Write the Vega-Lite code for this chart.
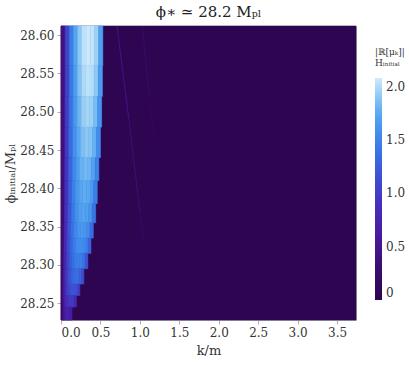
{
  "$schema": "https://vega.github.io/schema/vega-lite/v6.json",
  "width": 295,
  "height": 294,
  "autosize": "none",
  "padding": {"left": 61, "top": 26, "right": 53, "bottom": 45},
  "background": "white",
  "config": {
    "view": {"stroke": "#b0b0b0", "strokeWidth": 1},
    "font": "DejaVu Serif"
  },
  "title": {"text": "ϕ∗ ≃ 28.2 Mₚₗ", "font": "DejaVu Serif", "fontSize": 15, "fontWeight": "normal", "color": "#222", "offset": 5, "anchor": "middle"},
  "datasets": {
    "cells": [
      {"k0":0,"k1":3.74,"p0":28.228,"p1":28.612,"v":0},
      {"k0":0,"k1":0.053,"p0":28.56,"p1":28.612,"v":0.41},
      {"k0":0.053,"k1":0.106,"p0":28.56,"p1":28.612,"v":1.04},
      {"k0":0.106,"k1":0.159,"p0":28.56,"p1":28.612,"v":1.45},
      {"k0":0.159,"k1":0.212,"p0":28.56,"p1":28.612,"v":1.72},
      {"k0":0.212,"k1":0.265,"p0":28.56,"p1":28.612,"v":1.9},
      {"k0":0.265,"k1":0.318,"p0":28.56,"p1":28.612,"v":2.03},
      {"k0":0.318,"k1":0.371,"p0":28.56,"p1":28.612,"v":2.07},
      {"k0":0.371,"k1":0.424,"p0":28.56,"p1":28.612,"v":2.05},
      {"k0":0.424,"k1":0.477,"p0":28.56,"p1":28.612,"v":1.95},
      {"k0":0.477,"k1":0.53,"p0":28.56,"p1":28.612,"v":1.7},

      {"k0":0,"k1":0.0525,"p0":28.52,"p1":28.56,"v":0.41},
      {"k0":0.0525,"k1":0.105,"p0":28.52,"p1":28.56,"v":1.02},
      {"k0":0.105,"k1":0.1575,"p0":28.52,"p1":28.56,"v":1.42},
      {"k0":0.1575,"k1":0.21,"p0":28.52,"p1":28.56,"v":1.68},
      {"k0":0.21,"k1":0.2625,"p0":28.52,"p1":28.56,"v":1.87},
      {"k0":0.2625,"k1":0.315,"p0":28.52,"p1":28.56,"v":1.99},
      {"k0":0.315,"k1":0.3675,"p0":28.52,"p1":28.56,"v":2.03},
      {"k0":0.3675,"k1":0.42,"p0":28.52,"p1":28.56,"v":2.01},
      {"k0":0.42,"k1":0.4725,"p0":28.52,"p1":28.56,"v":1.91},
      {"k0":0.4725,"k1":0.525,"p0":28.52,"p1":28.56,"v":1.66},

      {"k0":0,"k1":0.0515,"p0":28.48,"p1":28.52,"v":0.39},
      {"k0":0.0515,"k1":0.103,"p0":28.48,"p1":28.52,"v":0.99},
      {"k0":0.103,"k1":0.1545,"p0":28.48,"p1":28.52,"v":1.38},
      {"k0":0.1545,"k1":0.206,"p0":28.48,"p1":28.52,"v":1.64},
      {"k0":0.206,"k1":0.2575,"p0":28.48,"p1":28.52,"v":1.81},
      {"k0":0.2575,"k1":0.309,"p0":28.48,"p1":28.52,"v":1.93},
      {"k0":0.309,"k1":0.3605,"p0":28.48,"p1":28.52,"v":1.97},
      {"k0":0.3605,"k1":0.412,"p0":28.48,"p1":28.52,"v":1.95},
      {"k0":0.412,"k1":0.4635,"p0":28.48,"p1":28.52,"v":1.85},
      {"k0":0.4635,"k1":0.515,"p0":28.48,"p1":28.52,"v":1.62},

      {"k0":0,"k1":0.05,"p0":28.44,"p1":28.48,"v":0.38},
      {"k0":0.05,"k1":0.1,"p0":28.44,"p1":28.48,"v":0.95},
      {"k0":0.1,"k1":0.15,"p0":28.44,"p1":28.48,"v":1.33},
      {"k0":0.15,"k1":0.2,"p0":28.44,"p1":28.48,"v":1.58},
      {"k0":0.2,"k1":0.25,"p0":28.44,"p1":28.48,"v":1.75},
      {"k0":0.25,"k1":0.3,"p0":28.44,"p1":28.48,"v":1.86},
      {"k0":0.3,"k1":0.35,"p0":28.44,"p1":28.48,"v":1.9},
      {"k0":0.35,"k1":0.4,"p0":28.44,"p1":28.48,"v":1.88},
      {"k0":0.4,"k1":0.45,"p0":28.44,"p1":28.48,"v":1.79},
      {"k0":0.45,"k1":0.5,"p0":28.44,"p1":28.48,"v":1.56},

      {"k0":0,"k1":0.048,"p0":28.41,"p1":28.44,"v":0.37},
      {"k0":0.048,"k1":0.096,"p0":28.41,"p1":28.44,"v":0.92},
      {"k0":0.096,"k1":0.144,"p0":28.41,"p1":28.44,"v":1.28},
      {"k0":0.144,"k1":0.192,"p0":28.41,"p1":28.44,"v":1.52},
      {"k0":0.192,"k1":0.24,"p0":28.41,"p1":28.44,"v":1.68},
      {"k0":0.24,"k1":0.288,"p0":28.41,"p1":28.44,"v":1.79},
      {"k0":0.288,"k1":0.336,"p0":28.41,"p1":28.44,"v":1.83},
      {"k0":0.336,"k1":0.384,"p0":28.41,"p1":28.44,"v":1.81},
      {"k0":0.384,"k1":0.432,"p0":28.41,"p1":28.44,"v":1.72},
      {"k0":0.432,"k1":0.48,"p0":28.41,"p1":28.44,"v":1.5},

      {"k0":0,"k1":0.046,"p0":28.38,"p1":28.41,"v":0.35},
      {"k0":0.046,"k1":0.092,"p0":28.38,"p1":28.41,"v":0.89},
      {"k0":0.092,"k1":0.138,"p0":28.38,"p1":28.41,"v":1.24},
      {"k0":0.138,"k1":0.184,"p0":28.38,"p1":28.41,"v":1.47},
      {"k0":0.184,"k1":0.23,"p0":28.38,"p1":28.41,"v":1.63},
      {"k0":0.23,"k1":0.276,"p0":28.38,"p1":28.41,"v":1.73},
      {"k0":0.276,"k1":0.322,"p0":28.38,"p1":28.41,"v":1.77},
      {"k0":0.322,"k1":0.368,"p0":28.38,"p1":28.41,"v":1.75},
      {"k0":0.368,"k1":0.414,"p0":28.38,"p1":28.41,"v":1.66},
      {"k0":0.414,"k1":0.46,"p0":28.38,"p1":28.41,"v":1.45},

      {"k0":0,"k1":0.044,"p0":28.355,"p1":28.38,"v":0.34},
      {"k0":0.044,"k1":0.088,"p0":28.355,"p1":28.38,"v":0.86},
      {"k0":0.088,"k1":0.132,"p0":28.355,"p1":28.38,"v":1.2},
      {"k0":0.132,"k1":0.176,"p0":28.355,"p1":28.38,"v":1.43},
      {"k0":0.176,"k1":0.22,"p0":28.355,"p1":28.38,"v":1.58},
      {"k0":0.22,"k1":0.264,"p0":28.355,"p1":28.38,"v":1.69},
      {"k0":0.264,"k1":0.308,"p0":28.355,"p1":28.38,"v":1.72},
      {"k0":0.308,"k1":0.352,"p0":28.355,"p1":28.38,"v":1.7},
      {"k0":0.352,"k1":0.396,"p0":28.355,"p1":28.38,"v":1.62},
      {"k0":0.396,"k1":0.44,"p0":28.355,"p1":28.38,"v":1.41},

      {"k0":0,"k1":0.041,"p0":28.335,"p1":28.355,"v":0.33},
      {"k0":0.041,"k1":0.082,"p0":28.335,"p1":28.355,"v":0.83},
      {"k0":0.082,"k1":0.123,"p0":28.335,"p1":28.355,"v":1.16},
      {"k0":0.123,"k1":0.164,"p0":28.335,"p1":28.355,"v":1.37},
      {"k0":0.164,"k1":0.205,"p0":28.335,"p1":28.355,"v":1.52},
      {"k0":0.205,"k1":0.246,"p0":28.335,"p1":28.355,"v":1.62},
      {"k0":0.246,"k1":0.287,"p0":28.335,"p1":28.355,"v":1.65},
      {"k0":0.287,"k1":0.328,"p0":28.335,"p1":28.355,"v":1.63},
      {"k0":0.328,"k1":0.369,"p0":28.335,"p1":28.355,"v":1.55},
      {"k0":0.369,"k1":0.41,"p0":28.335,"p1":28.355,"v":1.35},

      {"k0":0,"k1":0.038,"p0":28.315,"p1":28.335,"v":0.31},
      {"k0":0.038,"k1":0.076,"p0":28.315,"p1":28.335,"v":0.79},
      {"k0":0.076,"k1":0.114,"p0":28.315,"p1":28.335,"v":1.1},
      {"k0":0.114,"k1":0.152,"p0":28.315,"p1":28.335,"v":1.3},
      {"k0":0.152,"k1":0.19,"p0":28.315,"p1":28.335,"v":1.44},
      {"k0":0.19,"k1":0.228,"p0":28.315,"p1":28.335,"v":1.54},
      {"k0":0.228,"k1":0.266,"p0":28.315,"p1":28.335,"v":1.57},
      {"k0":0.266,"k1":0.304,"p0":28.315,"p1":28.335,"v":1.55},
      {"k0":0.304,"k1":0.342,"p0":28.315,"p1":28.335,"v":1.48},
      {"k0":0.342,"k1":0.38,"p0":28.315,"p1":28.335,"v":1.29},

      {"k0":0,"k1":0.034,"p0":28.295,"p1":28.315,"v":0.3},
      {"k0":0.034,"k1":0.068,"p0":28.295,"p1":28.315,"v":0.74},
      {"k0":0.068,"k1":0.102,"p0":28.295,"p1":28.315,"v":1.04},
      {"k0":0.102,"k1":0.136,"p0":28.295,"p1":28.315,"v":1.23},
      {"k0":0.136,"k1":0.17,"p0":28.295,"p1":28.315,"v":1.36},
      {"k0":0.17,"k1":0.204,"p0":28.295,"p1":28.315,"v":1.45},
      {"k0":0.204,"k1":0.238,"p0":28.295,"p1":28.315,"v":1.48},
      {"k0":0.238,"k1":0.272,"p0":28.295,"p1":28.315,"v":1.47},
      {"k0":0.272,"k1":0.306,"p0":28.295,"p1":28.315,"v":1.39},
      {"k0":0.306,"k1":0.34,"p0":28.295,"p1":28.315,"v":1.21},

      {"k0":0,"k1":0.029,"p0":28.275,"p1":28.295,"v":0.27},
      {"k0":0.029,"k1":0.058,"p0":28.275,"p1":28.295,"v":0.68},
      {"k0":0.058,"k1":0.087,"p0":28.275,"p1":28.295,"v":0.95},
      {"k0":0.087,"k1":0.116,"p0":28.275,"p1":28.295,"v":1.13},
      {"k0":0.116,"k1":0.145,"p0":28.275,"p1":28.295,"v":1.25},
      {"k0":0.145,"k1":0.174,"p0":28.275,"p1":28.295,"v":1.33},
      {"k0":0.174,"k1":0.203,"p0":28.275,"p1":28.295,"v":1.36},
      {"k0":0.203,"k1":0.232,"p0":28.275,"p1":28.295,"v":1.35},
      {"k0":0.232,"k1":0.261,"p0":28.275,"p1":28.295,"v":1.28},
      {"k0":0.261,"k1":0.29,"p0":28.275,"p1":28.295,"v":1.12},

      {"k0":0,"k1":0.024,"p0":28.26,"p1":28.275,"v":0.24},
      {"k0":0.024,"k1":0.048,"p0":28.26,"p1":28.275,"v":0.6},
      {"k0":0.048,"k1":0.072,"p0":28.26,"p1":28.275,"v":0.84},
      {"k0":0.072,"k1":0.096,"p0":28.26,"p1":28.275,"v":1.0},
      {"k0":0.096,"k1":0.12,"p0":28.26,"p1":28.275,"v":1.1},
      {"k0":0.12,"k1":0.144,"p0":28.26,"p1":28.275,"v":1.18},
      {"k0":0.144,"k1":0.168,"p0":28.26,"p1":28.275,"v":1.2},
      {"k0":0.168,"k1":0.192,"p0":28.26,"p1":28.275,"v":1.19},
      {"k0":0.192,"k1":0.216,"p0":28.26,"p1":28.275,"v":1.13},
      {"k0":0.216,"k1":0.24,"p0":28.26,"p1":28.275,"v":0.98},

      {"k0":0,"k1":0.0195,"p0":28.245,"p1":28.26,"v":0.2},
      {"k0":0.0195,"k1":0.039,"p0":28.245,"p1":28.26,"v":0.5},
      {"k0":0.039,"k1":0.0585,"p0":28.245,"p1":28.26,"v":0.7},
      {"k0":0.0585,"k1":0.078,"p0":28.245,"p1":28.26,"v":0.83},
      {"k0":0.078,"k1":0.0975,"p0":28.245,"p1":28.26,"v":0.92},
      {"k0":0.0975,"k1":0.117,"p0":28.245,"p1":28.26,"v":0.98},
      {"k0":0.117,"k1":0.1365,"p0":28.245,"p1":28.26,"v":1.0},
      {"k0":0.1365,"k1":0.156,"p0":28.245,"p1":28.26,"v":0.99},
      {"k0":0.156,"k1":0.1755,"p0":28.245,"p1":28.26,"v":0.94},
      {"k0":0.1755,"k1":0.195,"p0":28.245,"p1":28.26,"v":0.82},

      {"k0":0,"k1":0.014,"p0":28.228,"p1":28.245,"v":0.15},
      {"k0":0.014,"k1":0.028,"p0":28.228,"p1":28.245,"v":0.38},
      {"k0":0.028,"k1":0.042,"p0":28.228,"p1":28.245,"v":0.53},
      {"k0":0.042,"k1":0.056,"p0":28.228,"p1":28.245,"v":0.62},
      {"k0":0.056,"k1":0.07,"p0":28.228,"p1":28.245,"v":0.69},
      {"k0":0.07,"k1":0.084,"p0":28.228,"p1":28.245,"v":0.74},
      {"k0":0.084,"k1":0.098,"p0":28.228,"p1":28.245,"v":0.75},
      {"k0":0.098,"k1":0.112,"p0":28.228,"p1":28.245,"v":0.74},
      {"k0":0.112,"k1":0.126,"p0":28.228,"p1":28.245,"v":0.71},
      {"k0":0.126,"k1":0.14,"p0":28.228,"p1":28.245,"v":0.62}
    ],
    "streaks": [
      {"k0":0.71,"p0":28.612,"k1":0.86,"p1":28.49,"v":0.4},
      {"k0":0.86,"p0":28.49,"k1":1.0,"p1":28.37,"v":0.3},
      {"k0":1.0,"p0":28.37,"k1":1.05,"p1":28.33,"v":0.15},
      {"k0":1.03,"p0":28.612,"k1":1.12,"p1":28.52,"v":0.2},
      {"k0":1.12,"p0":28.52,"k1":1.2,"p1":28.45,"v":0.12}
    ]
  },
  "layer": [
    {
      "data": {"name": "cells"},
      "mark": {"type": "rect", "strokeWidth": 0.6, "stroke": {"expr": "scale('fill', datum.v)"}},
      "encoding": {
        "x": {"field": "k0", "type": "quantitative",
          "scale": {"domain": [0, 3.74], "nice": false, "zero": false},
          "axis": {"values": [0, 0.5, 1, 1.5, 2, 2.5, 3, 3.5], "format": ".1f", "title": "k/m",
            "labelFont": "DejaVu Serif", "labelFontSize": 12, "labelColor": "#333",
            "titleFont": "DejaVu Serif", "titleFontSize": 13, "titleFontWeight": "normal", "titleColor": "#333",
            "domain": false, "tickColor": "#b0b0b0", "tickSize": 4, "labelPadding": 3, "titlePadding": 6, "grid": false}},
        "x2": {"field": "k1"},
        "y": {"field": "p0", "type": "quantitative",
          "scale": {"domain": [28.228, 28.612], "nice": false, "zero": false},
          "axis": {"values": [28.25, 28.3, 28.35, 28.4, 28.45, 28.5, 28.55, 28.6], "format": ".2f", "title": "ϕᵢₙᵢₜᵢₐₗ/Mₚₗ",
            "labelFont": "DejaVu Serif", "labelFontSize": 12, "labelColor": "#333",
            "titleFont": "DejaVu Serif", "titleFontSize": 13, "titleFontWeight": "normal", "titleColor": "#333",
            "domain": false, "tickColor": "#b0b0b0", "tickSize": 4, "labelPadding": 3, "titlePadding": 2, "grid": false}},
        "y2": {"field": "p1"},
        "fill": {"field": "v", "type": "quantitative",
          "scale": {"domain": [0, 0.3, 0.6, 0.9, 1.2, 1.5, 1.75, 1.95, 2.08],
                    "range": ["#2d0550", "#3a0d72", "#4a1a9e", "#4630bd", "#3c56d6", "#3e84ea", "#58a8f2", "#9dd2f7", "#cdebfc"]},
          "legend": {"type": "gradient", "direction": "vertical", "orient": "none", "legendX": 314, "legendY": 22,
            "title": ["|ℝ[μₖ]|", "Hᵢₙᵢₜᵢₐₗ"], "titleFont": "DejaVu Serif", "titleFontSize": 9, "titleFontWeight": "normal", "titleColor": "#333", "titlePadding": 10,
            "gradientLength": 222, "gradientThickness": 7, "gradientStrokeWidth": 0,
            "values": [0, 0.5, 1, 1.5, 2],
            "labelExpr": "datum.value == 0 ? '0' : format(datum.value, '.1f')",
            "labelFont": "DejaVu Serif", "labelFontSize": 12, "labelColor": "#333", "labelOffset": 4}}
      }
    },
    {
      "data": {"name": "streaks"},
      "mark": {"type": "rule", "strokeWidth": 1.2, "stroke": {"expr": "scale('fill', datum.v)"}},
      "encoding": {
        "x": {"field": "k0", "type": "quantitative"},
        "x2": {"field": "k1"},
        "y": {"field": "p0", "type": "quantitative"},
        "y2": {"field": "p1"}
      }
    }
  ]
}
